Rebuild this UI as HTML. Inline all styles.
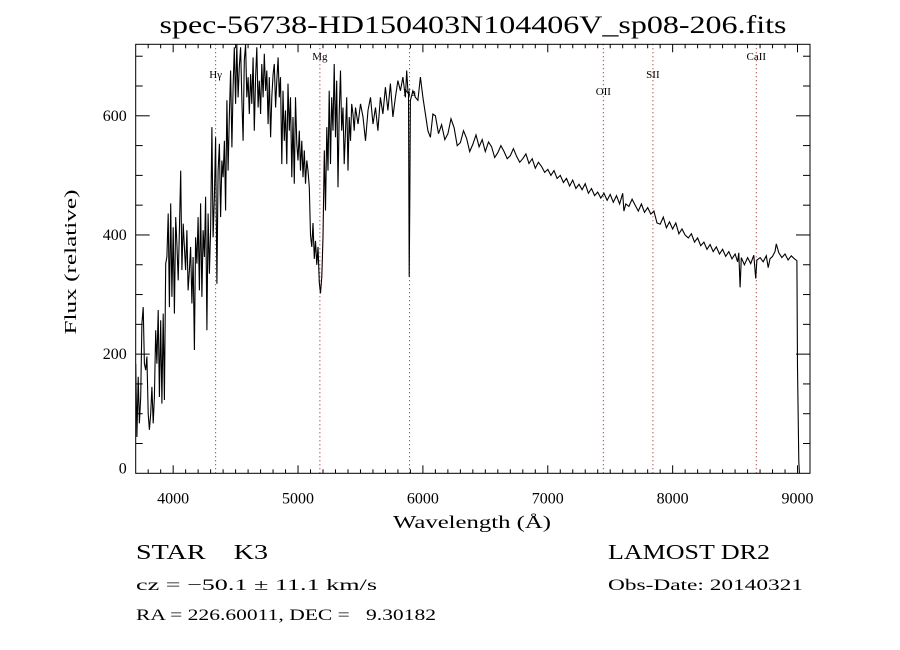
<!DOCTYPE html>
<html><head><meta charset="utf-8"><style>
html,body{margin:0;padding:0;background:#fff;}
svg{display:block;}
text{font-family:"Liberation Serif",serif;fill:#000;white-space:pre;}
.lbl{font-family:"Liberation Serif",serif;font-size:11px;}
</style></head><body>
<svg id="chart" width="900" height="650" viewBox="0 0 900 650" xmlns="http://www.w3.org/2000/svg" xml:space="preserve">
<rect width="900" height="650" fill="#fff"/>
<text x="473" y="33" font-size="25" text-anchor="middle" textLength="627" lengthAdjust="spacingAndGlyphs">spec-56738-HD150403N104406V_sp08-206.fits</text>
<g id="lines"></g>
<g id="spec"></g>
<g id="axes"></g>
<text x="472" y="528" font-size="18" text-anchor="middle" textLength="158" lengthAdjust="spacingAndGlyphs">Wavelength (Å)</text>
<text transform="translate(76,262) rotate(-90)" font-size="17" text-anchor="middle" textLength="145" lengthAdjust="spacingAndGlyphs">Flux (relative)</text>
<text x="136" y="559" font-size="21" textLength="132" lengthAdjust="spacingAndGlyphs">STAR    K3</text>
<text x="136" y="590" font-size="16" textLength="241" lengthAdjust="spacingAndGlyphs">cz = −50.1 ± 11.1 km/s</text>
<text x="136" y="620" font-size="16" textLength="300" lengthAdjust="spacingAndGlyphs">RA = 226.60011, DEC =   9.30182</text>
<text x="608" y="559" font-size="21" textLength="162" lengthAdjust="spacingAndGlyphs">LAMOST DR2</text>
<text x="608" y="590" font-size="16" textLength="195" lengthAdjust="spacingAndGlyphs">Obs-Date: 20140321</text>
</svg>
<script>
const wavelengths = [3700,3710,3720,3730,3740,3750,3760,3770,3780,3790,3800,3810,3820,3830,3840,3850,3860,3870,3880,3890,3900,3910,3920,3930,3940,3950,3960,3970,3980,3990,4000,4010,4020,4030,4040,4050,4060,4070,4080,4090,4100,4110,4120,4130,4140,4150,4160,4170,4180,4190,4200,4210,4220,4230,4240,4250,4260,4270,4280,4290,4300,4310,4320,4330,4340,4350,4360,4370,4380,4390,4400,4410,4420,4430,4440,4450,4460,4470,4480,4490,4500,4510,4520,4530,4540,4550,4560,4570,4580,4590,4600,4610,4620,4630,4640,4650,4660,4670,4680,4690,4700,4710,4720,4730,4740,4750,4760,4770,4780,4790,4800,4810,4820,4830,4840,4850,4860,4870,4880,4890,4900,4910,4920,4930,4940,4950,4960,4970,4980,4990,5000,5010,5020,5030,5040,5050,5060,5070,5080,5090,5100,5110,5120,5130,5140,5150,5160,5170,5180,5190,5200,5210,5220,5230,5240,5250,5260,5270,5280,5290,5300,5310,5320,5330,5340,5350,5360,5370,5380,5390,5400,5410,5420,5430,5440,5450,5460,5480,5500,5520,5540,5560,5580,5600,5620,5640,5660,5680,5700,5720,5740,5760,5780,5800,5820,5840,5860,5870,5880,5885,5890,5895,5900,5920,5940,5960,5980,6000,6020,6040,6060,6080,
6100,6125,6150,6175,6200,6225,6250,6275,6300,6325,6350,6375,6400,6425,6450,6475,6500,6525,6550,6575,6600,6625,6650,6675,6700,6725,6750,6775,6800,6825,6850,6875,6900,6925,6950,6975,7000,7025,7050,7075,7100,7125,7150,7175,7200,7225,7250,7275,7300,7325,7350,7375,7400,7425,7450,7475,7500,7525,7550,7575,7600,7610,7625,7650,7675,7700,7725,7750,7775,7800,7825,7850,7875,7900,7925,7950,7975,8000,8025,8050,8075,8100,8125,8150,8175,8200,8225,8250,8275,8300,8325,8350,8375,8400,8425,8450,8475,8500,8520,8530,8540,8550,8575,8600,8625,8650,8665,8675,8700,8725,8750,8765,8780,8800,8820,8830,8850,8875,8900,8925,8950,8975,8995,9000,9010,9015];
const fluxes = [184,61,162,84,128,251,279,184,173,196,100,73,100,145,84,128,240,184,274,128,257,117,268,123,352,363,436,279,453,296,413,268,430,385,324,408,508,341,419,380,341,408,307,341,380,285,363,207,396,352,430,307,453,296,408,363,464,240,436,335,408,581,396,464,564,318,508,553,430,525,497,558,441,626,508,603,676,547,648,715,620,720,631,682,715,631,558,693,720,631,665,603,670,620,698,575,665,715,614,659,603,687,631,704,642,676,586,665,564,631,670,687,614,659,698,631,665,519,642,558,609,519,654,575,631,497,598,486,631,553,525,575,508,558,497,542,486,525,508,480,400,380,420,360,390,350,380,320,302,330,396,542,441,581,508,642,519,631,575,687,564,659,480,603,676,575,614,519,575,631,508,598,558,620,603,575,614,586,620,598,558,609,631,586,614,575,631,603,648,609,654,598,631,659,642,665,631,676,642,640,330,460,626,642,631,626,665,631,603,575,564,603,
600,570,585,560,570,595,580,550,555,575,562,540,552,568,548,560,540,556,548,530,538,550,540,528,533,545,532,522,528,536,520,528,512,522,515,505,510,500,508,495,500,488,495,482,492,478,485,476,486,470,478,466,472,462,470,458,468,455,466,452,470,440,452,448,460,450,440,452,438,446,435,440,420,418,430,412,422,410,420,402,410,400,395,402,388,395,382,388,376,384,372,380,368,376,364,372,360,368,355,370,312,362,350,362,352,366,327,358,362,355,365,345,360,364,372,385,370,362,368,358,365,360,357,178,20,0];
const xTicks = [4000,5000,6000,7000,8000,9000];
const yTicks = [0,200,400,600];
const lineNames = ["Hγ","Mg","Na","OII","SII","CaII"];
const lineWaves = [4340,5175,5893,7445,7842,8670];
const lineLabelY = [78,60,96,95,78,60];

const NS="http://www.w3.org/2000/svg";
const L=135.7,R=810,T=44.3,B=473.3,XMIN=3700,XMAX=9100,YMIN=0,YMAX=720;
const xs=w=>L+(w-XMIN)/(XMAX-XMIN)*(R-L);
const ys=f=>B-(f-YMIN)/(YMAX-YMIN)*(B-T);
function mk(tag,attrs,parent){const e=document.createElementNS(NS,tag);for(const k in attrs)e.setAttribute(k,attrs[k]);parent.appendChild(e);return e;}

const lg=document.getElementById('lines');
lineWaves.forEach((w,i)=>{
  const x=xs(w);
  const ln=mk('line',{x1:x,y1:T,x2:x,y2:B,stroke:'#8b1a1a','stroke-width':1,'stroke-dasharray':'1,3'},lg);
  
  
  const t=mk('text',{x:x,y:lineLabelY[i],'text-anchor':'middle',class:'lbl'},lg);
  t.textContent=lineNames[i];
  
  
});

const sg=document.getElementById('spec');
let d='';
const n=Math.min(wavelengths.length,fluxes.length);
for(let i=0;i<n;i++){d+=(i?'L':'M')+xs(wavelengths[i]).toFixed(1)+','+ys(fluxes[i]).toFixed(1);}
const cp=mk('clipPath',{id:'clip'},sg);mk('rect',{x:L,y:T,width:R-L,height:B-T},cp);
const p=mk('path',{d:d,fill:'none',stroke:'#000','stroke-width':1.1,'clip-path':'url(#clip)'},sg);



const ag=document.getElementById('axes');
const box=mk('rect',{x:L,y:T,width:R-L,height:B-T,fill:'none',stroke:'#000','stroke-width':1},ag);


for(let w=3800;w<=XMAX;w+=100){
  const x=xs(w);const major=w%1000===0;const len=major?8:4;
  mk('line',{x1:x,y1:B,x2:x,y2:B-len,stroke:'#000'},ag);
  mk('line',{x1:x,y1:T,x2:x,y2:T+len,stroke:'#000'},ag);
}
for(let f=50;f<YMAX;f+=50){
  const y=ys(f);const major=f%200===0;const len=major?14:7;
  mk('line',{x1:L,y1:y,x2:L+len,y2:y,stroke:'#000'},ag);
  mk('line',{x1:R,y1:y,x2:R-len,y2:y,stroke:'#000'},ag);
}
xTicks.forEach(w=>{
  const t=mk('text',{x:xs(w),y:B+30,'font-size':16,'text-anchor':'middle'},ag);
  t.textContent=String(w);
  
  
});
yTicks.forEach(f=>{
  const t=mk('text',{x:L-9,y:ys(f)+(f===0?0:5),'font-size':16,'text-anchor':'end'},ag);
  t.textContent=String(f);
  
  
});
</script>
</body></html>
